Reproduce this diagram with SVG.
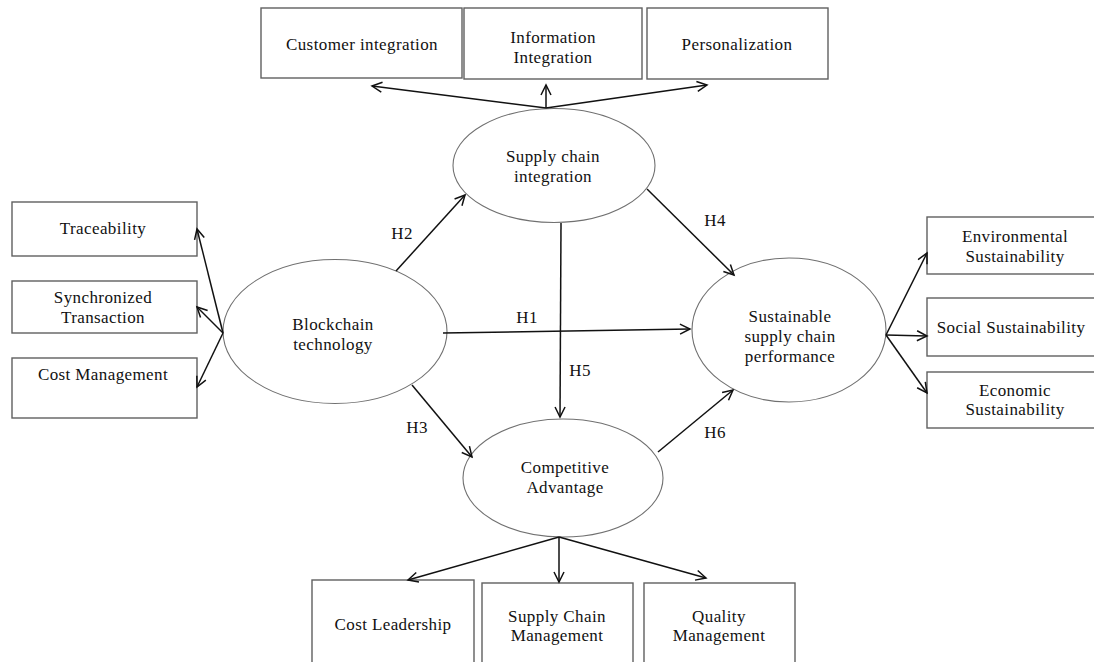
<svg xmlns="http://www.w3.org/2000/svg" width="1094" height="662" viewBox="0 0 1094 662">
<style>
.box{fill:#fff;stroke:#606060;stroke-width:1.4}
.ell{fill:#fff;stroke:#707070;stroke-width:1.1}
.t{font-family:"Liberation Serif","Times New Roman",serif;font-size:17px;letter-spacing:0.4px;fill:#111;text-anchor:middle}
.c{stroke:#111;stroke-width:1.5;fill:none;marker-end:url(#ah)}
</style>
<defs>
<marker id="ah" markerUnits="userSpaceOnUse" markerWidth="14" markerHeight="14" refX="11" refY="6" orient="auto">
<path d="M1,1 L11,6 L1,11" fill="none" stroke="#111" stroke-width="1.5"/>
</marker>
</defs>
<rect width="1094" height="662" fill="#fff"/>
<g id="customer-integration"><rect class="box" x="261" y="8" width="201" height="70"/><text class="t" x="362" y="50">Customer integration</text></g>
<g id="information-integration"><rect class="box" x="464" y="8" width="178" height="71"/><text class="t" x="553" y="43">Information</text><text class="t" x="553" y="63">Integration</text></g>
<g id="personalization"><rect class="box" x="647" y="8" width="181" height="71"/><text class="t" x="737" y="50">Personalization</text></g>
<g id="supply-chain-integration"><ellipse class="ell" cx="554" cy="165.5" rx="101" ry="57"/><text class="t" x="553" y="162">Supply chain</text><text class="t" x="553" y="182">integration</text></g>
<g id="traceability"><rect class="box" x="12" y="202" width="185" height="54"/><text class="t" x="103" y="234">Traceability</text></g>
<g id="synchronized-transaction"><rect class="box" x="12" y="281" width="185" height="52"/><text class="t" x="103" y="303">Synchronized</text><text class="t" x="103" y="323">Transaction</text></g>
<g id="cost-management"><rect class="box" x="12" y="358" width="185" height="60"/><text class="t" x="103" y="380">Cost Management</text></g>
<g id="blockchain-technology"><ellipse class="ell" cx="335" cy="331.5" rx="112" ry="72"/><text class="t" x="333" y="330">Blockchain</text><text class="t" x="333" y="350">technology</text></g>
<g id="sustainable-performance"><ellipse class="ell" cx="789" cy="330" rx="97" ry="72"/><text class="t" x="790" y="322">Sustainable</text><text class="t" x="790" y="342">supply chain</text><text class="t" x="790" y="362">performance</text></g>
<g id="environmental-sustainability"><rect class="box" x="927" y="217" width="170" height="57"/><text class="t" x="1015" y="242">Environmental</text><text class="t" x="1015" y="262">Sustainability</text></g>
<g id="social-sustainability"><rect class="box" x="927" y="298" width="170" height="58"/><text class="t" x="1011" y="333">Social Sustainability</text></g>
<g id="economic-sustainability"><rect class="box" x="927" y="372" width="170" height="56"/><text class="t" x="1015" y="396">Economic</text><text class="t" x="1015" y="415">Sustainability</text></g>
<g id="competitive-advantage"><ellipse class="ell" cx="563" cy="478" rx="100" ry="59"/><text class="t" x="565" y="473">Competitive</text><text class="t" x="565" y="493">Advantage</text></g>
<g id="cost-leadership"><rect class="box" x="312" y="580" width="162" height="90"/><text class="t" x="393" y="630">Cost Leadership</text></g>
<g id="supply-chain-management"><rect class="box" x="482" y="583" width="151" height="90"/><text class="t" x="557" y="622">Supply Chain</text><text class="t" x="557" y="641">Management</text></g>
<g id="quality-management"><rect class="box" x="644" y="583" width="151" height="90"/><text class="t" x="719" y="622">Quality</text><text class="t" x="719" y="641">Management</text></g>
<g id="connectors">
<line class="c" x1="546" y1="108" x2="372" y2="86"/>
<line class="c" x1="546" y1="108" x2="546" y2="85"/>
<line class="c" x1="546" y1="108" x2="707" y2="85"/>
<line class="c" x1="223" y1="333" x2="197" y2="229"/>
<line class="c" x1="223" y1="333" x2="197" y2="307"/>
<line class="c" x1="223" y1="333" x2="197" y2="387"/>
<line class="c" x1="886" y1="335" x2="927" y2="253"/>
<line class="c" x1="886" y1="335" x2="927" y2="336"/>
<line class="c" x1="886" y1="335" x2="927" y2="393"/>
<line class="c" x1="559" y1="537" x2="408" y2="580"/>
<line class="c" x1="559" y1="537" x2="559" y2="582"/>
<line class="c" x1="559" y1="537" x2="706" y2="578"/>
<line class="c" x1="396" y1="271" x2="465" y2="195"/>
<line class="c" x1="443" y1="333" x2="690" y2="329"/>
<line class="c" x1="412" y1="385" x2="472" y2="457"/>
<line class="c" x1="561" y1="223" x2="560" y2="417"/>
<line class="c" x1="647" y1="189" x2="734" y2="275"/>
<line class="c" x1="658" y1="452" x2="733" y2="390"/>
<text class="t" x="402" y="239">H2</text>
<text class="t" x="527" y="323">H1</text>
<text class="t" x="417" y="433">H3</text>
<text class="t" x="580" y="376">H5</text>
<text class="t" x="715" y="226">H4</text>
<text class="t" x="715" y="438">H6</text>
</g>
</svg>
